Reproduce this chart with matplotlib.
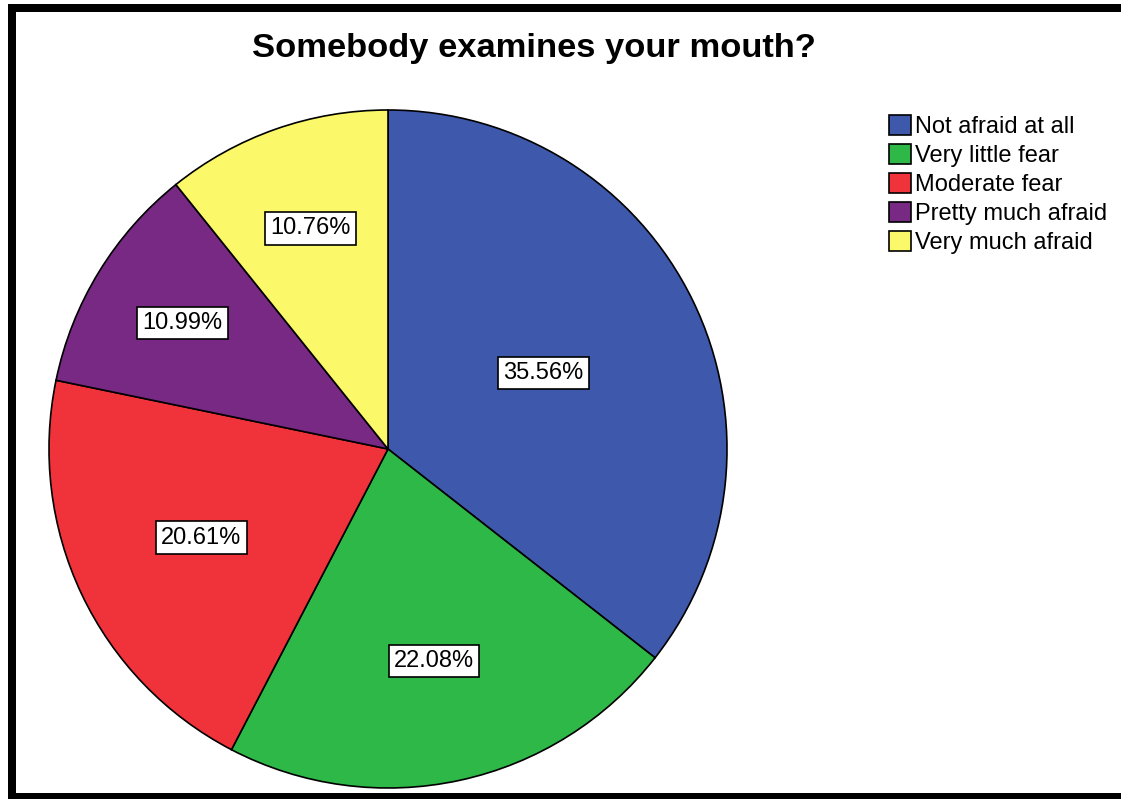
import matplotlib.pyplot as plt
import matplotlib.patches as mpatches
import numpy as np

# answers and their shares
categories = ["Not afraid at all", "Very little fear", "Moderate fear",
              "Pretty much afraid", "Very much afraid"]
percents = [35.56, 22.08, 20.61, 10.99, 10.76]
colors = ["#3E58AC", "#2EB848", "#F0323A", "#772983", "#FBF869"]
label_dist = [0.51, 0.64, 0.61, 0.71, 0.69]

W, H = 1121, 799
fig = plt.figure(figsize=(W / 100, H / 100), dpi=100)
plt.rcParams['font.family'] = ['Liberation Sans', 'DejaVu Sans']

# pie axes: centre (388, 449) px, radius 339 px
cx, cy, r = 388, 449, 339
ax = fig.add_axes([(cx - r) / W, (H - cy - r) / H, 2 * r / W, 2 * r / H])
wedges, _ = ax.pie(percents, colors=colors, startangle=90, counterclock=False,
                   wedgeprops=dict(edgecolor="black", linewidth=1.2))
ax.set_xlim(-1, 1)
ax.set_ylim(-1, 1)
ax.set_aspect("equal")
ax.axis("off")

for w, p, d in zip(wedges, percents, label_dist):
    ang = np.deg2rad((w.theta1 + w.theta2) / 2)
    ax.text(d * np.cos(ang), d * np.sin(ang), "%.2f%%" % p, ha="center",
            va="center", fontsize=17,
            bbox=dict(boxstyle="square,pad=0.22", facecolor="white",
                      edgecolor="black", linewidth=1.2))

fig.text(534 / W, 1 - 57 / H, "Somebody examines your mouth?", ha="center",
         va="baseline", fontsize=24.8, fontweight="bold")

handles = [mpatches.Patch(facecolor=c, edgecolor="black", linewidth=1.2)
           for c in colors]
fig.legend(handles, categories, loc="upper left",
           bbox_to_anchor=(889 / W, 1 - 115 / H), frameon=False,
           fontsize=17, handlelength=0.95, handleheight=0.95,
           handletextpad=0.15, labelspacing=0.24, borderpad=0,
           borderaxespad=0)

# black frame: top, left, bottom
for x0, y0, x1, y1 in [(8, 4, W, 12), (8, 4, 16, H), (8, 793, W, H)]:
    fig.add_artist(mpatches.Rectangle((x0 / W, 1 - y1 / H), (x1 - x0) / W,
                                      (y1 - y0) / H, transform=fig.transFigure,
                                      facecolor="black", edgecolor="none"))

fig.savefig("out.png", dpi=100)
